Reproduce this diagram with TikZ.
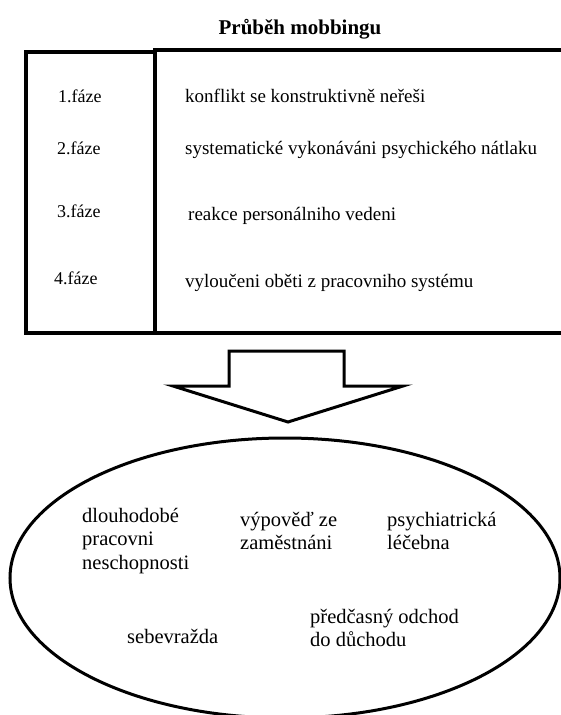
\documentclass[tikz,border=0pt]{standalone}
\usepackage{fontspec}
\setmainfont{Liberation Serif}
\usetikzlibrary{positioning}
\usetikzlibrary{shapes.geometric}
\tikzset{
	linka/.style={draw=black, line width=4pt},
	sipka/.style={draw=black, line width=3pt, miter limit=20},
	nadpis/.style={
		anchor=base,
		inner sep=0pt,
		font=\fontsize{21}{25}\selectfont\bfseries},
	faze/.style={anchor=base west, inner sep=0pt, font=\fontsize{18}{21}\selectfont},
	popis/.style={anchor=base west, inner sep=0pt},
	kruh/.style={
		ellipse,
		draw=black, line width=3pt,
		minimum width=550pt,
		minimum height=280pt,
		inner sep=0pt},
	dusledek/.style={
		anchor=base west,
		align=left,
		inner sep=0pt,
		font=\fontsize{20.5}{23.5}\selectfont},
}

\begin{document}
\begin{tikzpicture}
	[x=1pt, y=-1pt, font=\fontsize{19}{23.5}\selectfont]
	\useasboundingbox (0,0) rectangle (561,715);
	\node[nadpis] (nadpis) at (300,34) {Průběh mobbingu};
	% tabulka
	\draw[linka] (26,52) rectangle (155,333);
	\draw[linka] (155,333) -- (155,50) -- (570,50);
	\draw[linka] (155,333) -- (570,333);
	\node[faze] (faze1) at (58,102) {1.fáze};
	\node[faze] (faze2) at (57,154.5) {2.fáze};
	\node[faze] (faze3) at (57,217.5) {3.fáze};
	\node[faze] (faze4) at (54,284.5) {4.fáze};
	\node[popis] (popis1) at (185,102.5) {konflikt se konstruktivně neřeši};
	\node[popis] (popis2) at (185,154.5) {systematické vykonáváni psychického nátlaku};
	\node[popis] (popis3) at (188,220) {reakce personálniho vedeni};
	\node[popis] (popis4) at (185,287) {vyloučeni oběti z pracovniho systému};
	% sipka dolu
	\draw[sipka] (229,386) -- (229,351) -- (344,351) -- (344,386) -- (403,386)
		-- (288,422) -- (173,386) -- cycle;
	% dusledky (base = posledni radek)
	\node[kruh] (elipsa) at (285,578) {};
	\node[dusledek] (dusledek1) at (82,569) {dlouhodobé\\pracovni\\neschopnosti};
	\node[dusledek] (dusledek2) at (240,549.5) {výpověď ze\\zaměstnáni};
	\node[dusledek] (dusledek3) at (387,549.5) {psychiatrická\\léčebna};
	\node[dusledek] (dusledek4) at (127,643) {sebevražda};
	\node[dusledek] (dusledek5) at (310,646.5) {předčasný odchod\\do důchodu};
\end{tikzpicture}
\end{document}
